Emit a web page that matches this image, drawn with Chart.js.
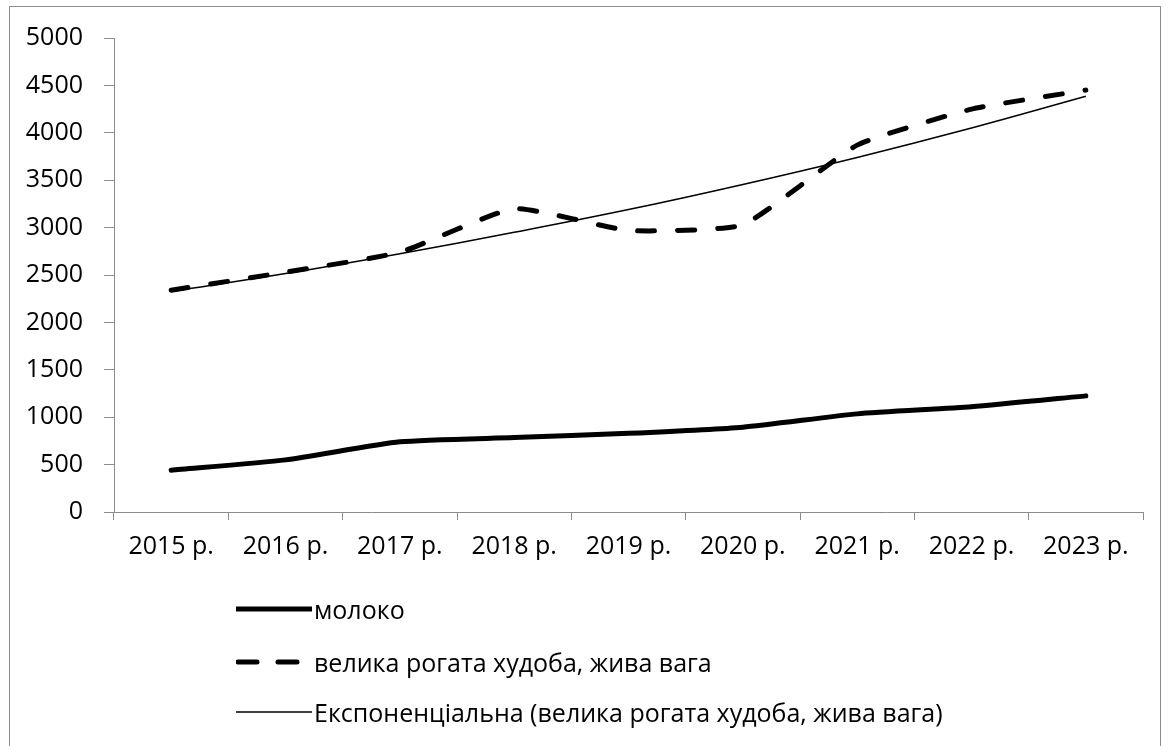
<!DOCTYPE html>
<html><head><meta charset="utf-8">
<script src="https://cdn.jsdelivr.net/npm/chart.js@4/dist/chart.umd.min.js"></script>
<style>
html,body{margin:0;padding:0;background:#fff;}
#wrap{position:relative;width:1168px;height:746px;overflow:hidden;font-family:'Open Sans',sans-serif;}
#frame{position:absolute;left:9px;top:6px;width:1152px;height:760px;border:1px solid #8c8c8c;box-sizing:border-box;}
#c{position:absolute;left:0;top:0;width:1168px;height:746px;}
#legend{position:absolute;left:236px;top:0;}
.item{position:absolute;left:0;height:34px;white-space:nowrap;font-size:25px;color:#000;display:flex;align-items:center;}
.item svg{margin-right:2px;}
</style></head><body>
<div id="wrap"><div id="frame"></div><canvas id="c" width="1168" height="746"></canvas><div id="legend"></div></div>
<script>
const categories = ["2015 р.","2016 р.","2017 р.","2018 р.","2019 р.","2020 р.","2021 р.","2022 р.","2023 р."];
const milk = [440, 550, 740, 785, 830, 895, 1035, 1110, 1225];
const cattle = [2340, 2530, 2740, 3200, 2970, 3030, 3870, 4250, 4450];
const cattleTrend = [2325, 2515, 2725, 2950, 3190, 3455, 3740, 4050, 4385];
const seriesNames = ["молоко", "велика рогата худоба, жива вага", "Експоненціальна (велика рогата худоба, жива вага)"];
const yTicks = {min: 0, max: 5000, step: 500};

const FONT = {family: "Open Sans", size: 25};
const chart = new Chart(document.getElementById('c'), {
  type: 'line',
  data: {
    labels: categories,
    datasets: [
      {label: seriesNames[0], data: milk, borderColor: '#000', borderWidth: 5, tension: 0.2, pointRadius: 0, borderCapStyle: 'round', borderJoinStyle: 'round'},
      {label: seriesNames[1], data: cattle, borderColor: '#000', borderWidth: 5, borderDash: [17, 23], borderCapStyle: 'round', tension: 0.15, pointRadius: 0},
      {label: seriesNames[2], data: cattleTrend, borderColor: '#000', borderWidth: 1.5, tension: 0.4, pointRadius: 0}
    ]
  },
  options: {
    responsive: false,
    animation: false,
    layout: {padding: {top: 38, right: 25, left: 0, bottom: 184}},
    plugins: {legend: {display: false}, tooltip: {enabled: false}},
    scales: {
      x: {
        offset: true,
        grid: {offset: true, drawOnChartArea: false, tickLength: 8, color: '#8c8c8c'},
        border: {color: '#8c8c8c', width: 1},
        ticks: {color: '#000', font: FONT, padding: 12, maxRotation: 0, autoSkip: false},
        afterFit: s => { s.height = 50; }
      },
      y: {
        min: yTicks.min, max: yTicks.max,
        grid: {drawOnChartArea: false, tickLength: 10, color: '#8c8c8c'},
        border: {color: '#8c8c8c', width: 1},
        ticks: {stepSize: yTicks.step, color: '#000', font: FONT, padding: 21, callback: v => String(v)},
        afterFit: s => { s.width = 114; }
      }
    }
  }
});

// HTML legend built from the chart's datasets
const legend = document.getElementById('legend');
const rowsY = [609, 662, 712];
chart.data.datasets.forEach((ds, i) => {
  const d = document.createElement('div');
  d.className = 'item';
  d.style.top = (rowsY[i] - 17) + 'px';
  const dash = ds.borderDash ? 'stroke-dasharray="19 21" stroke-linecap="round"' : '';
  const w = ds.borderWidth;
  d.innerHTML = '<svg width="76" height="12"><line x1="' + (ds.borderDash ? 2 : 0) + '" y1="6" x2="76" y2="6" stroke="#000" stroke-width="' + w + '" ' + dash + '/></svg><span>' + ds.label + '</span>';
  legend.appendChild(d);
});
</script>
</body></html>
